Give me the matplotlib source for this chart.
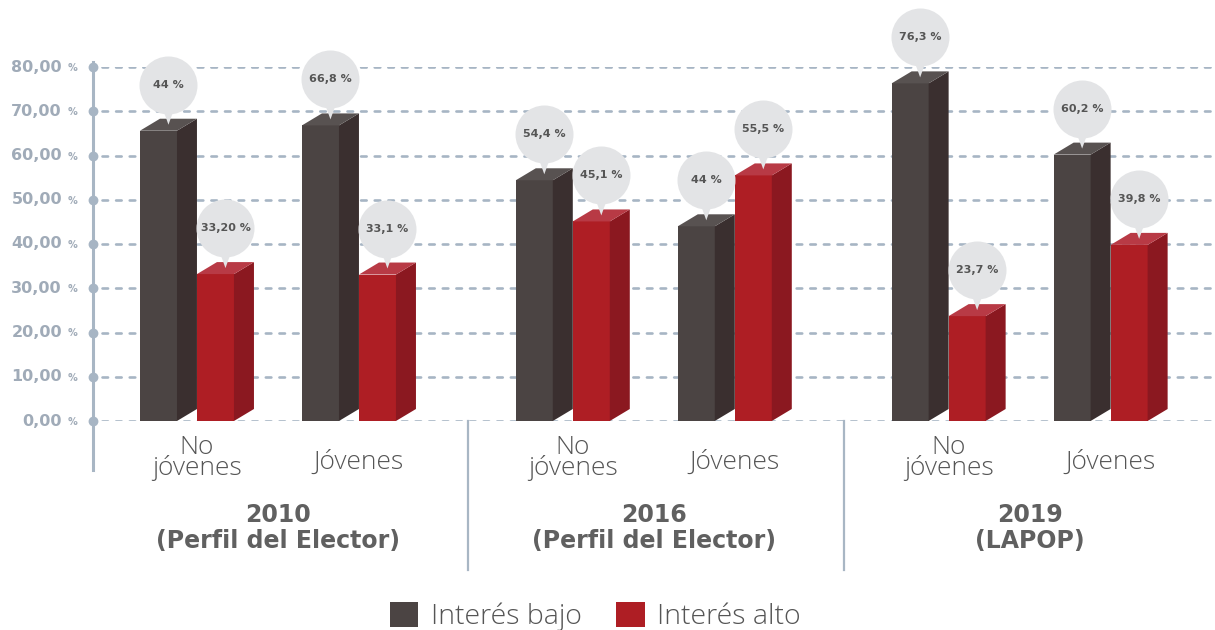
import matplotlib
matplotlib.use("Agg")
import matplotlib.pyplot as plt
from matplotlib.patches import Polygon, Patch

# data
groups = ["2010\n(Perfil del Elector)", "2016\n(Perfil del Elector)", "2019\n(LAPOP)"]
subgroups = ["No\njóvenes", "Jóvenes"]
bajo = [65.6, 66.8, 54.4, 44.0, 76.3, 60.2]
alto = [33.2, 33.1, 45.1, 55.5, 23.7, 39.8]
bajo_labels = ["44 %", "66,8 %", "54,4 %", "44 %", "76,3 %", "60,2 %"]
alto_labels = ["33,20 %", "33,1 %", "45,1 %", "55,5 %", "23,7 %", "39,8 %"]
yticks = [0, 10, 20, 30, 40, 50, 60, 70, 80]
ytick_labels = ["0,00", "10,00", "20,00", "30,00", "40,00", "50,00", "60,00", "70,00", "80,00"]
series_names = ["Interés bajo", "Interés alto"]

# colours: front, side, top
c_bajo = ("#4b4443", "#3a2f2f", "#585251")
c_alto = ("#ae1e24", "#8b1820", "#b83a45")
grid_c = "#a7b5c4"
tick_c = "#a0abb8"
text_c = "#555555"
bubble_c = "#e3e4e6"

plt.rcParams["lines.scale_dashes"] = False
light = dict(family="Open Sans", weight="light")

W, H = 1215, 630
fig = plt.figure(figsize=(W / 100, H / 100), dpi=100)
ax_l, ax_b, ax_w, ax_h = 93, 209, 1122, 354
ax = fig.add_axes([ax_l / W, ax_b / H, ax_w / W, ax_h / H])
x0, x1 = -0.58, 6.346
ax.set_xlim(x0, x1)
ax.set_ylim(0, 80)
ax.axis("off")

kx = ax_w / (x1 - x0)   # px per x unit
ky = ax_h / 80.0        # px per y unit
px_x = lambda p: p / kx
px_y = lambda p: p / ky

bar_w = px_x(37)
dx, dy = px_x(20), px_y(12)

group_step = 2.32
centers = [g * group_step + s for g in range(len(groups)) for s in range(len(subgroups))]

# gridlines + axis
for v, lab in zip(yticks, ytick_labels):
    ax.plot([x0 + px_x(9), x1], [v, v], color=grid_c, lw=1.9, dashes=(4.0, 5.8),
            zorder=0, solid_capstyle="butt", dash_capstyle="round")
    ax.scatter([x0], [v], s=50, color=grid_c, zorder=3, clip_on=False, linewidths=0)
    ax.annotate(lab, xy=(x0, v), xytext=(-31, 0), textcoords="offset pixels",
                ha="right", va="center", fontsize=11.5, weight="bold", color=tick_c)
    ax.annotate("%", xy=(x0, v), xytext=(-25, -1), textcoords="offset pixels",
                ha="left", va="center", fontsize=7, weight="bold", color=tick_c)
ax.plot([x0, x0], [81.2, -px_y(49)], color="#a8b6c4", lw=2.2, clip_on=False, zorder=2)


def bar3d(xl, h, cols, label):
    ax.bar(xl, h, width=bar_w, align="edge", color=cols[0], linewidth=0, zorder=2)
    side = [(xl + bar_w, 0), (xl + bar_w + dx, dy), (xl + bar_w + dx, h + dy), (xl + bar_w, h)]
    top = [(xl, h), (xl + bar_w, h), (xl + bar_w + dx, h + dy), (xl + dx, h + dy)]
    ax.add_patch(Polygon(side, closed=True, fc=cols[1], lw=0, zorder=2))
    ax.add_patch(Polygon(top, closed=True, fc=cols[2], lw=0, zorder=2))
    # bubble
    cx = xl + bar_w / 2 + dx / 2
    tip = h + dy / 2
    cy = tip + px_y(40)
    tri = [(cx - px_x(5), cy - px_y(26)), (cx + px_x(5), cy - px_y(26)), (cx, tip)]
    ax.add_patch(Polygon(tri, closed=True, fc=bubble_c, lw=0, zorder=4, clip_on=False))
    ax.scatter([cx], [cy], s=(58 * 0.72) ** 2, color=bubble_c, linewidths=0,
               zorder=4, clip_on=False)
    ax.text(cx, cy, label, ha="center", va="center", fontsize=8, weight="bold",
            color=text_c, zorder=5)


for i, c in enumerate(centers):
    bar3d(c - px_x(47), bajo[i], c_bajo, bajo_labels[i])
    bar3d(c + px_x(10), alto[i], c_alto, alto_labels[i])
    sub = subgroups[i % 2]
    off = -37 if "\n" in sub else -41
    ax.annotate(sub, xy=(c + dx / 2, 0), xytext=(0, off), textcoords="offset pixels",
                ha="center", va="center", fontsize=19, color=text_c,
                linespacing=0.78, **light)

for g, name in enumerate(groups):
    gc = (centers[2 * g] + centers[2 * g + 1]) / 2 + dx / 2
    ax.annotate(name, xy=(gc, 0), xytext=(0, -107), textcoords="offset pixels",
                ha="center", va="center", fontsize=17, weight="bold", color="#606060",
                linespacing=1.15)

for g in range(len(groups) - 1):
    sx = (centers[2 * g + 1] + centers[2 * g + 2]) / 2 + dx / 2 + px_x(2)
    ax.plot([sx, sx], [0, -px_y(149)], color="#a8b6c4", lw=1.6, clip_on=False, zorder=2)

handles = [Patch(facecolor=c_bajo[0]), Patch(facecolor=c_alto[0])]
leg = fig.legend(handles, series_names, loc="upper center", bbox_to_anchor=(0.49, 1 - 602 / H),
                 ncol=2, frameon=False, handlelength=1.0, handleheight=1.0,
                 handletextpad=0.45, columnspacing=1.2, borderaxespad=0, borderpad=0,
                 prop=dict(size=20.5, **light))
for t in leg.get_texts():
    t.set_color(text_c)

fig.savefig("out.png", dpi=100)
